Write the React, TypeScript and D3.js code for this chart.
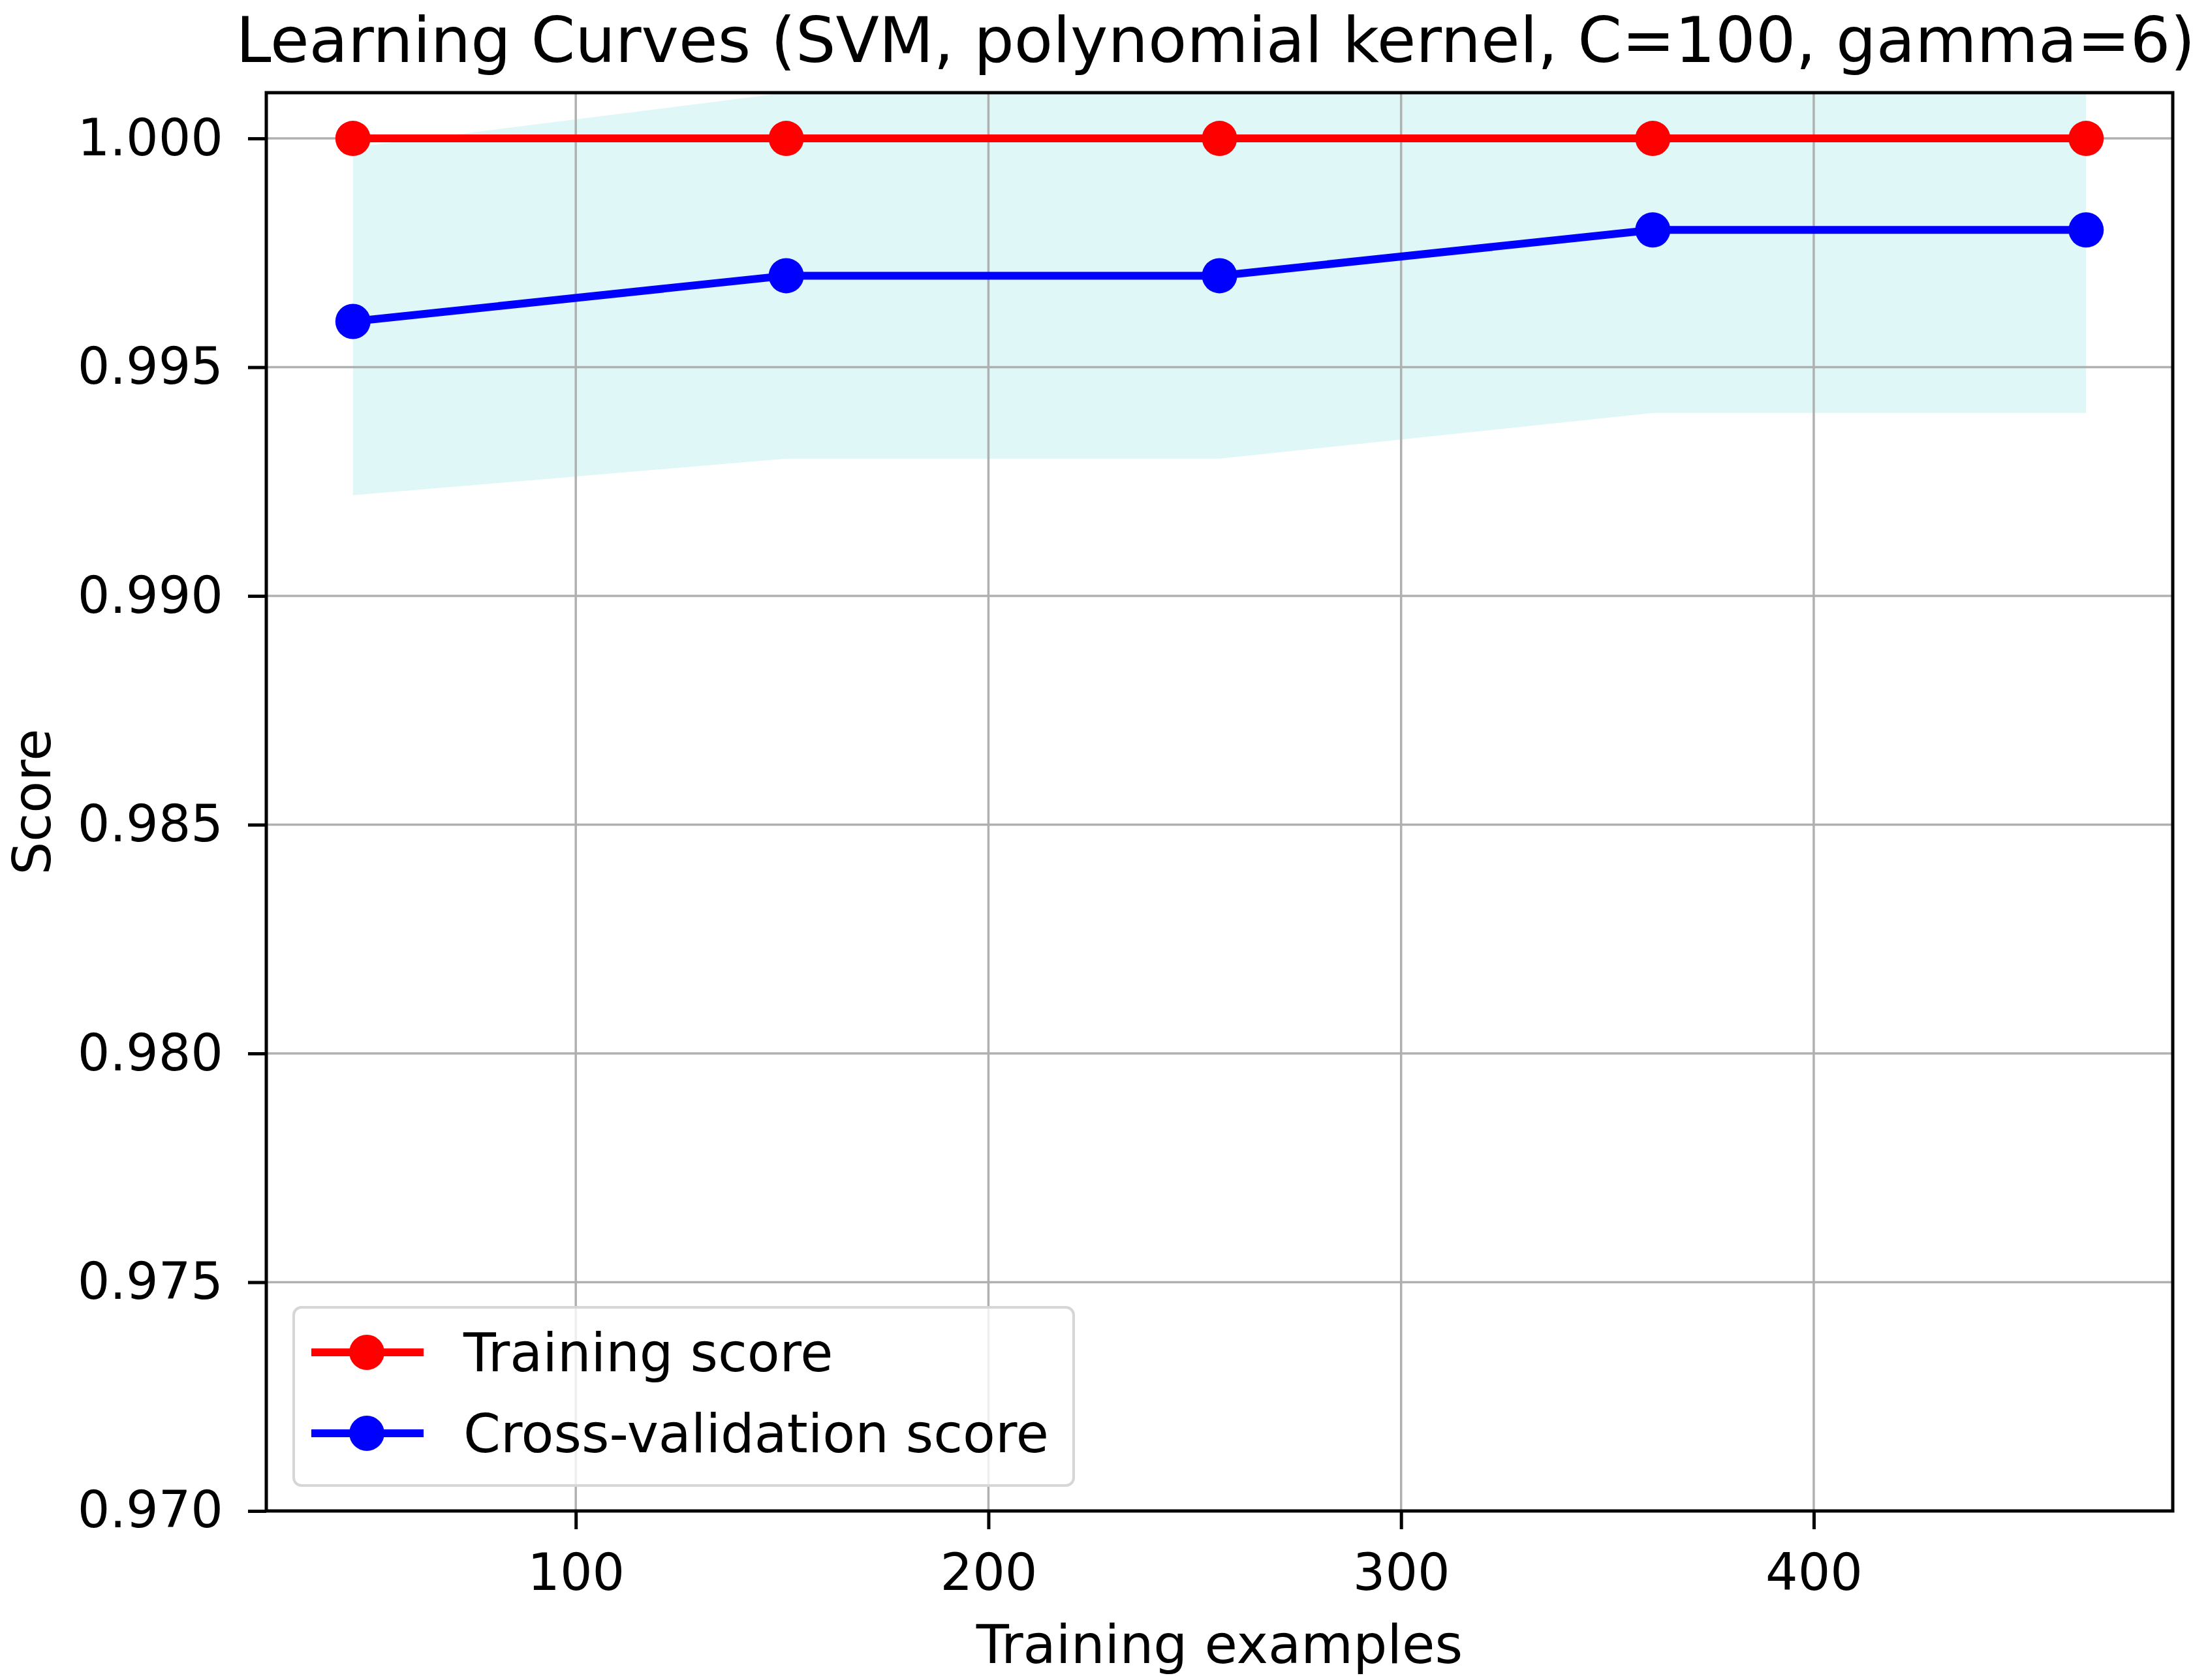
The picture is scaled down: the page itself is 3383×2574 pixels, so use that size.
import { useEffect, useRef } from 'react'
import * as d3 from 'd3'

// training set sizes used by learning_curve
const trainSizes = [46, 151, 256, 361, 466]
const trainMean = [1.0, 1.0, 1.0, 1.0, 1.0]
const trainStd = [0, 0, 0, 0, 0]
const cvMean = [0.996, 0.997, 0.997, 0.998, 0.998]
const cvStd = [0.0038, 0.004, 0.004, 0.004, 0.004]

const xTicks = [100, 200, 300, 400]
const yTicks = [0.97, 0.975, 0.98, 0.985, 0.99, 0.995, 1.0]

const legendLabels = ['Training score', 'Cross-validation score']
const seriesColors = ['#ff0000', '#0000ff']

const FONT = '"DejaVu Sans", sans-serif'

const App = () => {
  const svgRef = useRef<SVGSVGElement>(null)

  useEffect(() => {
    if (!svgRef.current) return
    document.body.style.margin = '0'

    const W = 3383
    const H = 2574
    const margin = { top: 142, right: 54, bottom: 259, left: 408 }
    const width = W - margin.left - margin.right
    const height = H - margin.top - margin.bottom

    d3.select(svgRef.current).selectAll('*').remove()

    const svg = d3.select(svgRef.current)
      .attr('width', W)
      .attr('height', H)

    svg.append('rect').attr('width', W).attr('height', H).attr('fill', 'white')

    const x = d3.scaleLinear().domain([25, 487]).range([0, width])
    const y = d3.scaleLinear().domain([0.97, 1.001]).range([height, 0])

    svg.append('defs').append('clipPath').attr('id', 'plot-clip')
      .append('rect').attr('width', width).attr('height', height)

    const g = svg.append('g')
      .attr('transform', `translate(${margin.left},${margin.top})`)

    const plot = g.append('g').attr('clip-path', 'url(#plot-clip)')

    // mean +/- std bands
    const trainBand = d3.area<number>()
      .x((_d, i) => x(trainSizes[i]))
      .y0((d, i) => y(d - trainStd[i]))
      .y1((d, i) => y(d + trainStd[i]))
    const cvBand = d3.area<number>()
      .x((_d, i) => x(trainSizes[i]))
      .y0((d, i) => y(d - cvStd[i]))
      .y1((d, i) => y(d + cvStd[i]))

    plot.append('path').attr('d', trainBand(trainMean)).attr('fill', '#ff0000').attr('fill-opacity', 0.1)
    plot.append('path').attr('d', cvBand(cvMean)).attr('fill', '#00bfbf').attr('fill-opacity', 0.12)

    // grid
    plot.selectAll('.vgrid').data(xTicks).enter().append('line')
      .attr('x1', d => x(d)).attr('x2', d => x(d))
      .attr('y1', 0).attr('y2', height)
      .attr('stroke', '#b0b0b0').attr('stroke-width', 3.5)
    plot.selectAll('.hgrid').data(yTicks).enter().append('line')
      .attr('y1', d => y(d)).attr('y2', d => y(d))
      .attr('x1', 0).attr('x2', width)
      .attr('stroke', '#b0b0b0').attr('stroke-width', 3.5)

    // lines + markers
    const line = d3.line<number>().x((_d, i) => x(trainSizes[i])).y(d => y(d))
    const series = [trainMean, cvMean]
    series.forEach((s, k) => {
      plot.append('path').attr('d', line(s))
        .attr('fill', 'none').attr('stroke', seriesColors[k]).attr('stroke-width', 12)
      plot.selectAll(`.m${k}`).data(s).enter().append('circle')
        .attr('cx', (_d, i) => x(trainSizes[i]))
        .attr('cy', d => y(d))
        .attr('r', 27)
        .attr('fill', seriesColors[k])
    })

    // axes
    const xAxis = g.append('g').attr('transform', `translate(0,${height})`)
      .call(d3.axisBottom(x).tickValues(xTicks).tickSize(28).tickPadding(38).tickFormat(d3.format('d')))
    const yAxis = g.append('g')
      .call(d3.axisLeft(y).tickValues(yTicks).tickSize(28).tickPadding(38).tickFormat(d3.format('.3f')))
    ;[xAxis, yAxis].forEach(a => {
      a.select('.domain').remove()
      a.selectAll('line').attr('stroke', 'black').attr('stroke-width', 5)
      a.selectAll('text').attr('fill', 'black').attr('font-family', FONT).attr('font-size', 78)
    })

    // frame
    g.append('rect').attr('width', width).attr('height', height)
      .attr('fill', 'none').attr('stroke', 'black').attr('stroke-width', 5)

    // labels
    svg.append('text')
      .attr('x', margin.left + width / 2 - 6).attr('y', 95)
      .attr('text-anchor', 'middle').attr('font-family', FONT).attr('font-size', 97)
      .text('Learning Curves (SVM, polynomial kernel, C=100, gamma=6)')
    svg.append('text')
      .attr('x', margin.left + width / 2).attr('y', 2548)
      .attr('text-anchor', 'middle').attr('font-family', FONT).attr('font-size', 82)
      .text('Training examples')
    svg.append('text')
      .attr('transform', `translate(77,${margin.top + height / 2}) rotate(-90)`)
      .attr('text-anchor', 'middle').attr('font-family', FONT).attr('font-size', 80)
      .text('Score')

    // legend
    const legend = svg.append('g').attr('transform', 'translate(450,2003)')
    legend.append('rect')
      .attr('width', 1195).attr('height', 273).attr('rx', 12)
      .attr('fill', 'white').attr('fill-opacity', 0.8)
      .attr('stroke', '#d6d6d6').attr('stroke-width', 4)
    legendLabels.forEach((label, k) => {
      const ly = 69 + k * 124
      legend.append('line').attr('x1', 27).attr('x2', 199).attr('y1', ly).attr('y2', ly)
        .attr('stroke', seriesColors[k]).attr('stroke-width', 12)
      legend.append('circle').attr('cx', 112).attr('cy', ly).attr('r', 27).attr('fill', seriesColors[k])
      legend.append('text').attr('x', 260).attr('y', ly + 29)
        .attr('font-family', FONT).attr('font-size', 81.5).attr('fill', 'black')
        .text(label)
    })
  }, [])

  return <svg ref={svgRef} style={{ display: 'block' }}></svg>
}

export default App
